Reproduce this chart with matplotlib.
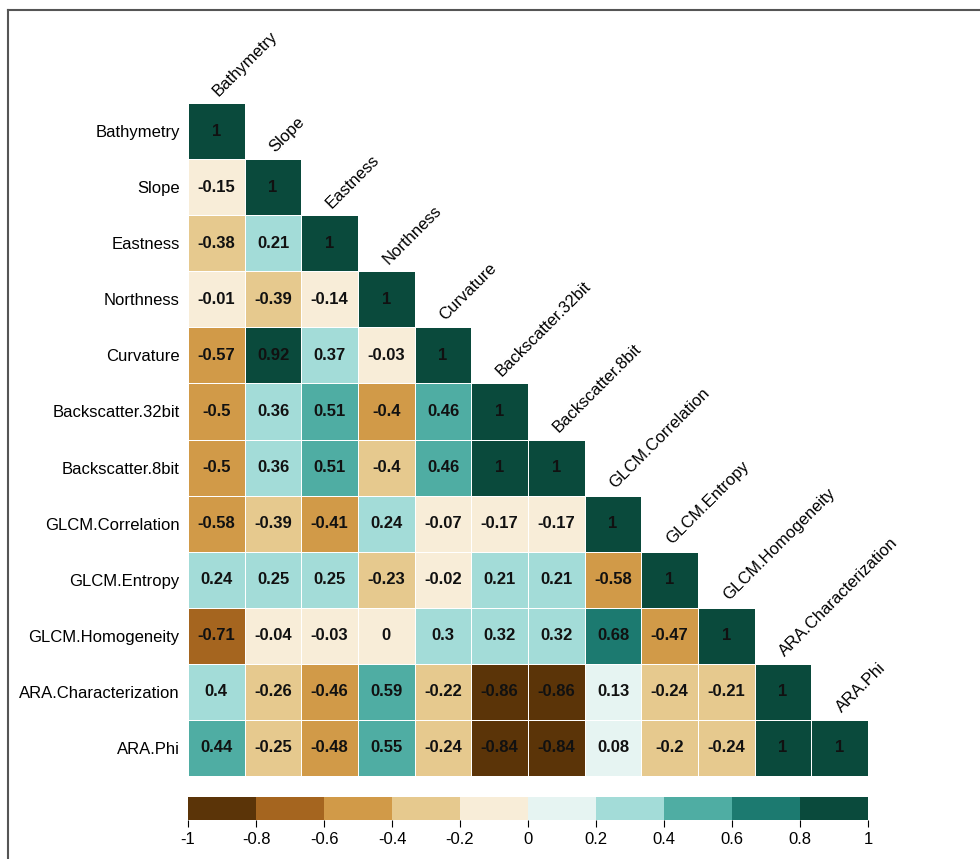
import numpy as np
import matplotlib.pyplot as plt
from matplotlib.colors import ListedColormap, BoundaryNorm

# 変数名
variables = ["Bathymetry", "Slope", "Eastness", "Northness", "Curvature",
             "Backscatter.32bit", "Backscatter.8bit", "GLCM.Correlation",
             "GLCM.Entropy", "GLCM.Homogeneity", "ARA.Characterization", "ARA.Phi"]

# 相関係数（下三角、各行は対角まで）
row_bathymetry = [1]
row_slope = [-0.15, 1]
row_eastness = [-0.38, 0.21, 1]
row_northness = [-0.01, -0.39, -0.14, 1]
row_curvature = [-0.57, 0.92, 0.37, -0.03, 1]
row_bs32 = [-0.5, 0.36, 0.51, -0.404, 0.46, 1]
row_bs8 = [-0.5, 0.36, 0.51, -0.396, 0.46, 1, 1]
row_glcm_corr = [-0.58, -0.39, -0.41, 0.24, -0.07, -0.17, -0.17, 1]
row_glcm_ent = [0.24, 0.25, 0.25, -0.23, -0.02, 0.21, 0.21, -0.58, 1]
row_glcm_hom = [-0.71, -0.04, -0.03, -0.004, 0.3, 0.32, 0.32, 0.68, -0.47, 1]
row_ara_char = [0.398, -0.26, -0.46, 0.59, -0.22, -0.86, -0.86, 0.13, -0.24, -0.21, 1]
row_ara_phi = [0.44, -0.25, -0.48, 0.55, -0.24, -0.84, -0.84, 0.08, -0.201, -0.24, 1, 1]

rows = [row_bathymetry, row_slope, row_eastness, row_northness, row_curvature,
        row_bs32, row_bs8, row_glcm_corr, row_glcm_ent, row_glcm_hom,
        row_ara_char, row_ara_phi]

cbar_ticks = [-1, -0.8, -0.6, -0.4, -0.2, 0, 0.2, 0.4, 0.6, 0.8, 1]
cbar_labels = ["-1", "-0.8", "-0.6", "-0.4", "-0.2", "0", "0.2", "0.4", "0.6", "0.8", "1"]

n = len(variables)
corr = np.full((n, n), np.nan)
for i, r in enumerate(rows):
    corr[i, :len(r)] = r
corr_masked = np.ma.masked_invalid(corr)

# 0.2刻み10段階の茶-緑パレット
bin_colors = ["#5b3408", "#a5651f", "#d19a48", "#e6c98e", "#f8edd8",
              "#e6f4f2", "#a3dcd8", "#4fada3", "#1c7a70", "#0a4a3c"]
cmap = ListedColormap(bin_colors)
norm = BoundaryNorm(np.linspace(-1, 1, 11), cmap.N)

plt.rcParams["font.family"] = ["Liberation Sans", "DejaVu Sans"]

fig = plt.figure(figsize=(9.8, 8.59), dpi=100)
ax = fig.add_axes([188 / 980, 1 - 776 / 859, 680 / 980, 673 / 859])

mesh = ax.pcolormesh(np.arange(n + 1) - 0.5, np.arange(n + 1) - 0.5, corr_masked,
                     cmap=cmap, norm=norm, edgecolors="white", linewidth=0.6)
ax.set_xlim(-0.5, n - 0.5)
ax.set_ylim(n - 0.5, -0.5)
for s in ax.spines.values():
    s.set_visible(False)
ax.set_xticks([])
ax.set_yticks(range(n))
ax.set_yticklabels(variables, fontsize=12)
ax.tick_params(axis="y", length=0, pad=6)


def fmt(v):
    s = f"{round(v, 2) + 0:.2f}".rstrip("0").rstrip(".")
    return s


# セル内の数値
for i, r in enumerate(rows):
    for j, v in enumerate(r):
        ax.text(j, i, fmt(v), ha="center", va="center", fontsize=12,
                fontweight="bold", color="#111111")

# 対角の上に列ラベル
for j, name in enumerate(variables):
    ax.text(j + 0.08, j - 0.58, name, rotation=45, rotation_mode="anchor",
            ha="left", va="bottom", fontsize=12, clip_on=False)

# カラーバー
cax = fig.add_axes([188 / 980, 1 - 820 / 859, 680 / 980, 23 / 859])
cbar = fig.colorbar(mesh, cax=cax, orientation="horizontal", ticks=cbar_ticks)
cbar.outline.set_visible(False)
cbar.ax.set_xticklabels(cbar_labels, family=["Liberation Sans Narrow", "Liberation Sans"])
cbar.ax.tick_params(length=5, width=0.8, labelsize=12, pad=4)

# 外枠（左と上）
fig.add_artist(plt.Line2D([8 / 980, 8 / 980], [0, 1 - 10 / 859], color="#555555", lw=1.5))
fig.add_artist(plt.Line2D([8 / 980, 1], [1 - 10 / 859, 1 - 10 / 859], color="#555555", lw=1.5))

plt.savefig("out.png")
